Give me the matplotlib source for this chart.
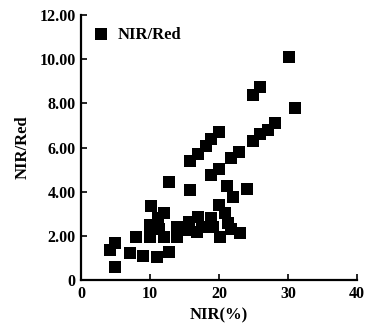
import matplotlib
matplotlib.use("Agg")
import matplotlib.pyplot as plt

nir = [15.8, 16.9, 18.1, 18.9, 20.0, 24.9, 26.0, 30.2,
       18.8, 20.0, 21.8, 22.9, 24.9, 26.0, 27.1, 28.1, 31.0,
       12.8, 15.8, 21.1, 24.1, 22.0, 10.1, 20.0, 20.9, 21.3, 23.0, 20.1,
       19.2, 18.9, 17.0, 17.5, 16.8, 15.6, 15.1, 13.9, 13.9, 12.1, 11.1,
       10.0, 11.3, 10.0, 12.1, 7.9, 14.6, 21.8,
       4.2, 4.9, 5.0, 7.1, 9.0, 11.0, 12.8]
ratio = [5.4, 5.7, 6.07, 6.4, 6.7, 8.38, 8.75, 10.1,
         4.76, 5.03, 5.54, 5.8, 6.31, 6.6, 6.8, 7.1, 7.8,
         4.42, 4.08, 4.26, 4.1, 3.75, 3.37, 3.4, 3.02, 2.57, 2.11, 1.96,
         2.42, 2.8, 2.87, 2.42, 2.19, 2.64, 2.26, 2.42, 1.96, 3.05, 2.8,
         2.5, 2.3, 1.96, 1.96, 1.96, 2.3, 2.3,
         1.36, 1.66, 0.6, 1.24, 1.1, 1.06, 1.28]

x_ticks = [0, 10, 20, 30, 40]
x_ticklabels = ["0", "10", "20", "30", "40"]
y_ticks = [0, 2, 4, 6, 8, 10, 12]
y_ticklabels = ["0", "2.00", "4.00", "6.00", "8.00", "10.00", "12.00"]

plt.rcParams['font.family'] = ['Liberation Serif', 'DejaVu Serif']
plt.rcParams['font.weight'] = 'bold'

fig = plt.figure(figsize=(3.67, 3.27), dpi=100)
ax = fig.add_axes([0.2207, 0.1437, 0.7521, 0.8103])
ax.scatter(nir, ratio, marker='s', s=65, color='black', linewidths=0, label='NIR/Red')

ax.set_xlim(0, 40)
ax.set_ylim(0, 12)
ax.set_xticks(x_ticks)
ax.set_xticklabels(x_ticklabels, fontsize=11.5, fontweight='bold')
ax.set_yticks(y_ticks)
ax.set_yticklabels(y_ticklabels, fontsize=11.5, fontweight='bold')
ax.tick_params(direction='in', length=4, width=1.2, pad=4)
for s in ['top', 'right']:
    ax.spines[s].set_visible(False)
for s in ['left', 'bottom']:
    ax.spines[s].set_linewidth(1.6)

ax.set_xlabel('NIR(%)', fontsize=12, fontweight='bold', labelpad=4)
ax.set_ylabel('NIR/Red', fontsize=12, fontweight='bold', labelpad=6)

ax.legend(loc='upper left', frameon=False, handlelength=1.0, handletextpad=0.5,
          borderaxespad=0.3, prop={'weight': 'bold', 'size': 12})

fig.savefig('out.png', dpi=100)
